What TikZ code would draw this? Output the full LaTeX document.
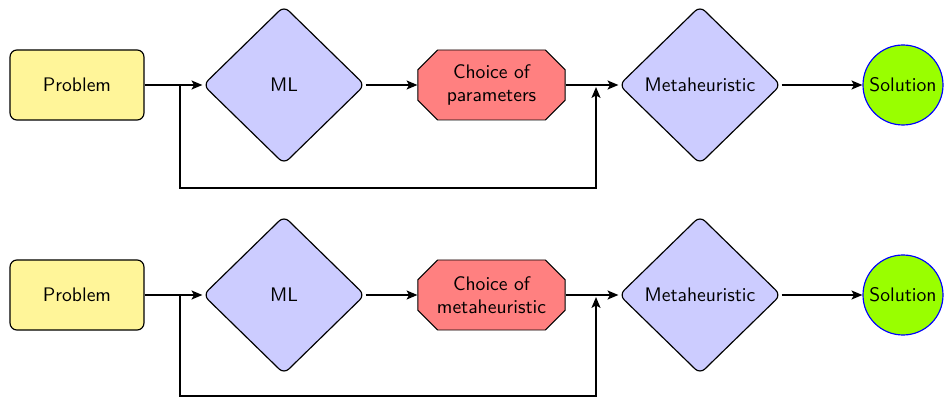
\documentclass[tikz,border=0pt]{standalone}
\usetikzlibrary{shapes.geometric,shapes.misc,arrows.meta}
\definecolor{probfill}{RGB}{255,245,153}
\definecolor{mlfill}{RGB}{204,204,255}
\definecolor{choicefill}{RGB}{255,128,128}
\definecolor{solfill}{RGB}{153,255,0}
\begin{document}
\begin{tikzpicture}[x=0.51pt,y=-0.51pt,font=\sffamily,
  probbox/.style={draw,line width=0.6pt,rounded corners=3.5pt,fill=probfill,minimum width=68.3pt,minimum height=35.7pt,inner sep=0pt},
  mlbox/.style={draw,line width=0.6pt,diamond,rounded corners=3.5pt,fill=mlfill,minimum width=82.6pt,minimum height=80.6pt,inner sep=0pt},
  choicebox/.style={draw,line width=0.5pt,chamfered rectangle,chamfered rectangle xsep=5pt,chamfered rectangle ysep=5pt,fill=choicefill,minimum width=75pt,minimum height=35.7pt,inner sep=0pt,align=center},
  solbox/.style={draw=blue,line width=0.6pt,circle,fill=solfill,minimum size=40.8pt,inner sep=0pt},
  conn/.style={line width=1.4pt,-{Stealth[length=5.5pt,width=4.5pt,inset=1.2pt]}}]
\useasboundingbox (0,0) rectangle (944,397);
% top row
\node[probbox] (p1) at (77,85) {Problem};
\node[mlbox] (m1) at (284,85) {ML};
\node[choicebox] (c1) at (491.5,85) {Choice of\\parameters};
\node[mlbox] (h1) at (700,85) {Metaheuristic};
\node[solbox] (s1) at (903,85) {Solution};
\coordinate (b1) at (180,85);
\coordinate (j1) at (596,87);
\draw[conn] (p1.east) -- (m1.west);
\draw[conn] (m1.east) -- (c1.west);
\draw[conn] (c1.east) -- (h1.west);
\draw[conn] (h1.east) -- (s1.west);
\draw[conn] (b1) |- (596,188) -- (j1);
% bottom row
\node[probbox] (p2) at (77,295) {Problem};
\node[mlbox] (m2) at (284,295) {ML};
\node[choicebox] (c2) at (491.5,295) {Choice of\\metaheuristic};
\node[mlbox] (h2) at (700,295) {Metaheuristic};
\node[solbox] (s2) at (903,295) {Solution};
\coordinate (b2) at (180,295);
\coordinate (j2) at (596,297);
\draw[conn] (p2.east) -- (m2.west);
\draw[conn] (m2.east) -- (c2.west);
\draw[conn] (c2.east) -- (h2.west);
\draw[conn] (h2.east) -- (s2.west);
\draw[conn] (b2) |- (596,396.5) -- (j2);
\end{tikzpicture}
\end{document}
